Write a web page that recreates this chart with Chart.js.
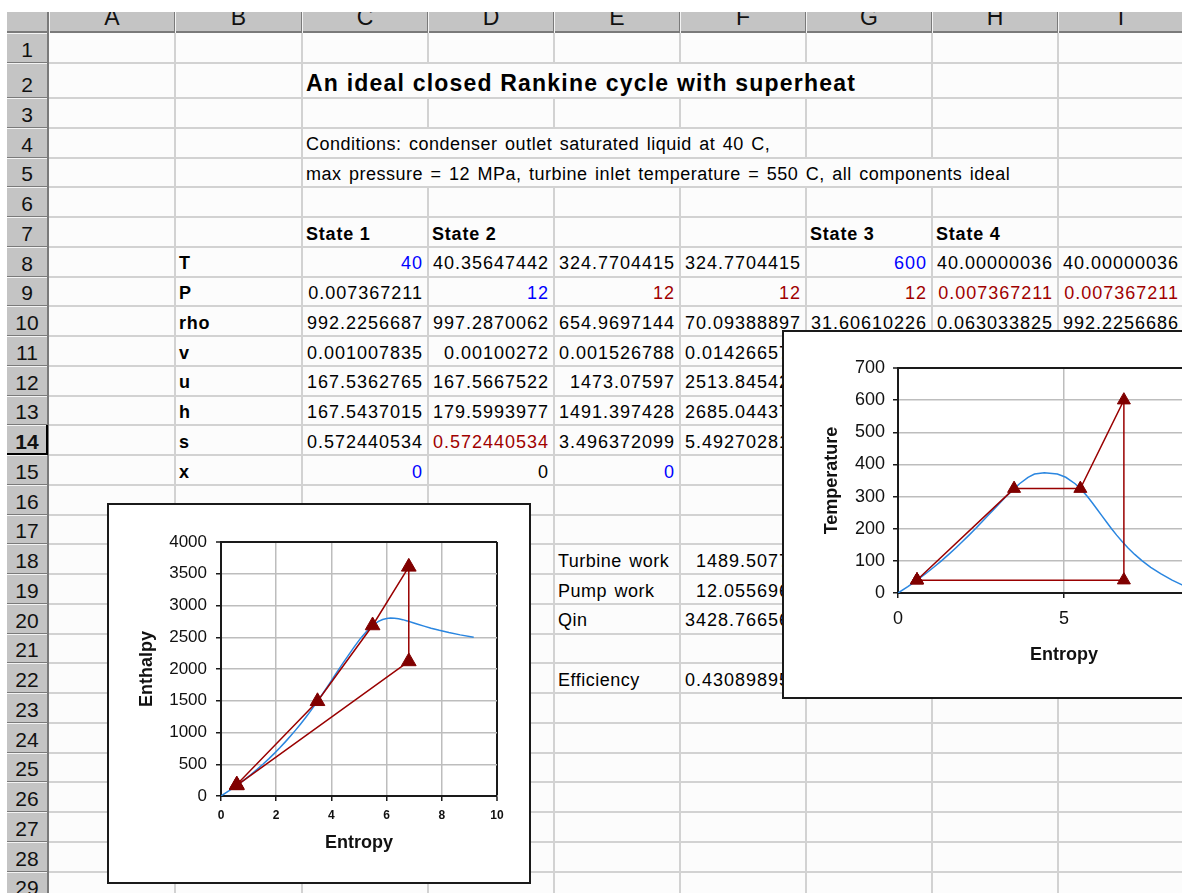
<!DOCTYPE html>
<html><head><meta charset="utf-8">
<script src="https://cdn.jsdelivr.net/npm/chart.js@4.4.0/dist/chart.umd.min.js"></script>
<style>
html,body{margin:0;padding:0;width:1182px;height:893px;overflow:hidden;background:#fff;font-family:"Liberation Sans",Arial,sans-serif;}
#sheet{position:absolute;left:0;top:0;width:1182px;height:893px;overflow:hidden;}
.abs{position:absolute;}
.txt{position:absolute;white-space:nowrap;font-size:18px;line-height:18px;color:#000;}
.hdr{position:absolute;white-space:nowrap;font-size:21px;line-height:21px;color:#111;text-align:center;}
.chartbox{position:absolute;border:2px solid #1a1a1a;box-sizing:border-box;background:#fff;}
.chartbox div{position:relative;width:100%;height:100%;}
</style>
</head><body>
<div id="sheet"></div>
<div class="chartbox" style="left:107px;top:503px;width:424px;height:381px;"><div><canvas id="hs"></canvas></div></div>
<div class="chartbox" style="left:782px;top:330px;width:480px;height:369px;"><div><canvas id="ts"></canvas></div></div>
<script>
// ---- chart data ----
const cycleS = [0.572440534, 0.572440534, 3.496372099, 5.492702812, 6.8037, 6.8037, 0.572440534];
const cycleT = [40, 40.35647442, 324.7704415, 324.7704415, 600, 40.00000036, 40.00000036];
const cycleH = [167.5437015, 179.5993977, 1491.397428, 2685.044372, 3608.37, 2118.86, 167.5437015];
const domeS = [0, 0.2966, 0.5724, 0.8313, 1.0753, 1.3069, 1.5276, 1.7391, 1.9427, 2.1396, 2.3305, 2.5182, 2.7020, 2.8849, 3.0685, 3.2552, 3.4494, 3.6601, 3.9167, 4.1112, 4.4070, 4.8012, 5.0536, 5.3356, 5.5372, 5.7059, 5.8571, 6.0019, 6.1437, 6.2861, 6.4323, 6.5857, 6.7502, 6.9299, 7.1296, 7.3549, 7.6122, 7.9096, 8.2556, 8.6672, 9.1562];
const domeT = [0.01, 20, 40, 60, 80, 100, 120, 140, 160, 180, 200, 220, 240, 260, 280, 300, 320, 340, 360, 370, 373.95, 370, 360, 340, 320, 300, 280, 260, 240, 220, 200, 180, 160, 140, 120, 100, 80, 60, 40, 20, 0.01];
const domeH = [0, 83.9, 167.5, 251.1, 334.9, 419.0, 503.7, 589.2, 675.5, 763.1, 852.3, 943.6, 1037.6, 1135.0, 1236.7, 1344.8, 1462.2, 1594.5, 1761.5, 1892.6, 2084.3, 2333.5, 2481.5, 2622.2, 2700.6, 2749.6, 2779.9, 2796.6, 2803.0, 2801.0, 2792.0, 2777.2, 2757.4, 2733.5, 2706.0, 2675.6, 2643.0, 2608.8, 2573.5, 2537.4, 2501.0];

// ---- spreadsheet text ----
const colLetters = ['A','B','C','D','E','F','G','H','I'];
const BLUE = '#0000ff', RED = '#a00000';
// [row, col(1=A), text, align, bold, color, spanToCol, kind]
const cells = [
  [2,3,'An ideal closed Rankine cycle with superheat','L',true,null,7,'title'],
  [4,3,'Conditions: condenser outlet saturated liquid at 40 C,','L',false,null,6],
  [5,3,'max pressure = 12 MPa, turbine inlet temperature = 550 C, all components ideal','L',false,null,8],
  [7,3,'State 1','L',true],[7,4,'State 2','L',true],[7,7,'State 3','L',true],[7,8,'State 4','L',true],
  [8,2,'T','L',true],[9,2,'P','L',true],[10,2,'rho','L',true],[11,2,'v','L',true],
  [12,2,'u','L',true],[13,2,'h','L',true],[14,2,'s','L',true],[15,2,'x','L',true],
  [8,3,'40','R',false,BLUE],[8,4,'40.35647442','R'],[8,5,'324.7704415','R'],[8,6,'324.7704415','R'],[8,7,'600','R',false,BLUE],[8,8,'40.00000036','R'],[8,9,'40.00000036','R'],
  [9,3,'0.007367211','R'],[9,4,'12','R',false,BLUE],[9,5,'12','R',false,RED],[9,6,'12','R',false,RED],[9,7,'12','R',false,RED],[9,8,'0.007367211','R',false,RED],[9,9,'0.007367211','R',false,RED],
  [10,3,'992.2256687','R'],[10,4,'997.2870062','R'],[10,5,'654.9697144','R'],[10,6,'70.09388897','R'],[10,7,'31.60610226','R'],[10,8,'0.063033825','R'],[10,9,'992.2256686','R'],
  [11,3,'0.001007835','R'],[11,4,'0.00100272','R'],[11,5,'0.001526788','R'],[11,6,'0.014266579','R'],
  [12,3,'167.5362765','R'],[12,4,'167.5667522','R'],[12,5,'1473.07597','R'],[12,6,'2513.845423','R'],
  [13,3,'167.5437015','R'],[13,4,'179.5993977','R'],[13,5,'1491.397428','R'],[13,6,'2685.044372','R'],
  [14,3,'0.572440534','R'],[14,4,'0.572440534','R',false,RED],[14,5,'3.496372099','R'],[14,6,'5.492702812','R'],
  [15,3,'0','R',false,BLUE],[15,4,'0','R'],[15,5,'0','R',false,BLUE],
  [18,5,'Turbine work','L'],[18,6,'1489.50774','R'],
  [19,5,'Pump work','L'],[19,6,'12.0556962','R'],
  [20,5,'Qin','L'],[20,6,'3428.766562','R'],
  [22,5,'Efficiency','L'],[22,6,'0.430898952','R']
];

// ---- layout of the sheet ----
const colX = [49,175,302,428,554,680,806,932,1058,1184];
function rowTop(r){ return r===1?33 : r===2?63 : 98 + (r-3)*29.75; }
function rowBot(r){ return rowTop(r+1); }
const sheet = document.getElementById('sheet');
function box(l,t,w,h,bg,extra){ const d=document.createElement('div'); d.className='abs'; d.style.cssText=`left:${l}px;top:${t}px;width:${w}px;height:${h}px;background:${bg};`+(extra||''); sheet.appendChild(d); return d; }
const CELLBG = '#fcfcfc';
box(49,33,1140,870,CELLBG);
// gridlines
for (let i=1;i<colX.length;i++) box(colX[i]-1,33,2,870,'#d2d2d2');
for (let r=1;r<=29;r++) box(49,rowBot(r)-1,1140,2,'#d2d2d2');
// column header band
const hb = box(7,12,1180,21,'#c4c4c4','overflow:hidden;');
box(7,31,1180,2,'#7a7a7a');
for (let i=0;i<colX.length-1;i++){
  const x=colX[i];
  box(x-1,12,1,21,'#7a7a7a'); box(x,12,1,21,'#f4f4f4');
  const t=document.createElement('div'); t.className='hdr';
  t.style.cssText+=`font-size:23px;line-height:23px;left:${x-7}px;top:${25-0.8465*23-12}px;width:${colX[i+1]-x}px;`;
  t.textContent=colLetters[i]; hb.appendChild(t);
}
// row header
box(7,33,41,870,'#c4c4c4');
box(47,12,2,881,'#7a7a7a');
for (let r=1;r<=29;r++){
  const t0=rowTop(r), t1=rowBot(r);
  box(7,t0,40,1,'#f4f4f4'); box(7,t1-1,40,1,'#7a7a7a');
  const d=document.createElement('div'); d.className='hdr';
  const base=t1-6;
  d.style.cssText+=`left:7px;top:${base-0.8465*21}px;width:40px;`+(r===14?'font-weight:bold;':'');
  d.textContent=String(r); sheet.appendChild(d);
}
// active row header frame
box(7,rowBot(14)-2,41,2,'#000'); box(46,rowTop(14),2,rowBot(14)-rowTop(14),'#000');
// cell texts
for (const c of cells){
  const [r,col,text,al,bold,color,span,kind]=c;
  const x0=colX[col-1], x1=colX[col];
  if (span){ box(x0+1,rowTop(r)+1,colX[span]-x0-2,rowBot(r)-rowTop(r)-2,CELLBG); }
  const d=document.createElement('div'); d.className='txt';
  const fs = kind==='title'?23:18;
  const base = rowBot(r) - (kind==='title'?7:7);
  let css=`top:${base-0.8465*fs}px;font-size:${fs}px;line-height:${fs}px;`;
  if (bold) css+='font-weight:bold;';
  if (color) css+=`color:${color};`;
  if (kind==='title') css+='letter-spacing:1.2px;';
  else if (al==='R') css+='letter-spacing:1px;';
  else if (bold) css+='letter-spacing:0.8px;';
  else css+='letter-spacing:0.5px;word-spacing:2px;';
  if (al==='R') css+=`left:${x0-20}px;width:${x1-x0+15}px;text-align:right;`;
  else css+=`left:${x0+4}px;`;
  d.style.cssText+=css; d.textContent=text; sheet.appendChild(d);
}

// ---- charts ----
Chart.defaults.font.family='"Liberation Sans", Arial, sans-serif';
Chart.defaults.color='#111';
function pts(xs,ys){ return xs.map((x,i)=>({x:x,y:ys[i]})); }
function cycleSet(ys,r){ return {data:pts(cycleS,ys),showLine:true,borderColor:'#990000',borderWidth:1.5,pointStyle:'triangle',pointRadius:r,pointBackgroundColor:'#800000',pointBorderColor:'#800000',pointBorderWidth:1}; }
function domeSet(ys){ return {data:pts(domeS,ys),showLine:true,borderColor:'#2a86e0',borderWidth:1.5,pointRadius:0}; }
function axis(o){
  return {type:'linear',min:o.min,max:o.max,
    ticks:{stepSize:o.step,font:o.tfont,color:'#111',padding:o.tpad,maxRotation:0,autoSkip:false,callback:v=>String(v)},
    grid:{color:ctx=>(ctx.tick&&ctx.tick.value===o.max)?'#1a1a1a':'#bdbdbd',lineWidth:ctx=>(ctx.tick&&ctx.tick.value===o.max)?2:1.5,tickLength:5,tickColor:'#1a1a1a',tickWidth:1.5},
    border:{color:'#1a1a1a',width:2},
    title:{display:true,text:o.title,font:{size:18,weight:'bold'},color:'#111',padding:o.titlePad},
    afterFit:o.fit};
}
new Chart(document.getElementById('hs'),{
  type:'scatter',
  data:{datasets:[cycleSet(cycleH,8.5),domeSet(domeH)]},
  options:{responsive:true,maintainAspectRatio:false,animation:false,events:[],devicePixelRatio:1,
    layout:{padding:{left:0,top:37,right:32,bottom:0}},
    plugins:{legend:{display:false},tooltip:{enabled:false}},
    scales:{
      x:axis({min:0,max:10,step:2,tfont:{size:12,weight:'bold'},tpad:7,title:'Entropy',titlePad:{top:0,bottom:28},fit:s=>{s.height=86;}}),
      y:axis({min:0,max:4000,step:500,tfont:{size:17},tpad:9,title:'Enthalpy',titlePad:{top:27,bottom:0},fit:s=>{s.width=112;}})
    }}
});
new Chart(document.getElementById('ts'),{
  type:'scatter',
  data:{datasets:[cycleSet(cycleT,7.5),domeSet(domeT)]},
  options:{responsive:true,maintainAspectRatio:false,animation:false,events:[],devicePixelRatio:1,
    layout:{padding:{left:0,top:36,right:30,bottom:0}},
    plugins:{legend:{display:false},tooltip:{enabled:false}},
    scales:{
      x:axis({min:0,max:10,step:5,tfont:{size:18},tpad:10,title:'Entropy',titlePad:{top:0,bottom:31},fit:s=>{s.height=104;}}),
      y:axis({min:0,max:700,step:100,tfont:{size:18},tpad:8,title:'Temperature',titlePad:{top:37,bottom:0},fit:s=>{s.width=114;}})
    }}
});
</script>
</body></html>
